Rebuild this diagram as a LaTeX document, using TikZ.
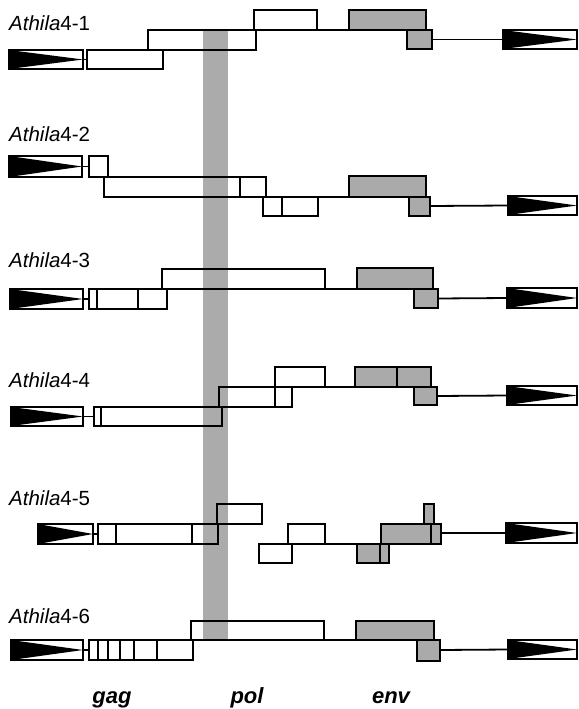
\documentclass[tikz,border=0pt]{standalone}
\usepackage{fontspec}
\setmainfont{Liberation Sans}
\definecolor{envgray}{HTML}{AAAAAA}
\definecolor{bargray}{HTML}{ABABAB}
\tikzset{
  orf/.style={draw=black,line width=1.8pt},
  envorf/.style={draw=black,line width=1.8pt,fill=envgray},
  link/.style={draw=black,line width=1.8pt},
  ltrbox/.style={draw=black,line width=1.8pt},
  rowlabel/.style={anchor=base west,inner sep=0pt,font=\fontsize{20.5}{24}\selectfont},
  orfname/.style={anchor=base,inner sep=0pt,font=\fontsize{22}{25}\selectfont\bfseries\itshape},
}
\newcommand\drawltr[5]{%
  \fill[black] (#2,#3) -- (#2,#5) -- (#4,{(#3+#5)/2}) -- cycle;
  \draw[ltrbox] (#2,#3) rectangle (#4,#5);
  \coordinate (#1-w) at (#2,{(#3+#5)/2});
  \coordinate (#1-e) at (#4,{(#3+#5)/2});
}
\begin{document}
\begin{tikzpicture}[x=1pt,y=-1pt]
\useasboundingbox (0,0) rectangle (578,709);
% shaded column
\fill[bargray] (203,30) rectangle (228,640);

% ---------- Athila4-1
\node[rowlabel] (n1) at (9,31) {\textit{Athila}4-1};
\drawltr{a1}{9}{50}{83}{69}
\draw[orf] (87,50) rectangle (163,69);
\coordinate (g1) at (87,59.5);
\draw[link] (a1-e) -- (g1);
\draw[orf] (148,30) rectangle (256,50);
\draw[orf] (254,10) rectangle (317,30);
\draw[link] (317,30) -- (349,30);
\draw[envorf] (349,10) rectangle (426,30);
\draw[envorf] (407,30) rectangle (432,49);
\drawltr{b1}{503}{30}{577}{49}
\coordinate (e1) at (432,39.5);
\draw[link] (e1) -- (b1-w);

% ---------- Athila4-2
\node[rowlabel] (n2) at (9,141) {\textit{Athila}4-2};
\drawltr{a2}{9}{156}{82}{177}
\coordinate (g2) at (89,166.5);
\draw[link] (a2-e) -- (g2);
\draw[orf] (89,156) rectangle (108,177);
\draw[orf] (104,177) rectangle (266,197);
\draw[orf] (240,177) -- (240,197);
\draw[orf] (263,197) rectangle (318,216);
\draw[orf] (282,197) -- (282,216);
\draw[link] (266,197) -- (349,197);
\draw[envorf] (349,176) rectangle (426,197);
\draw[envorf] (409,197) rectangle (430,216);
\drawltr{b2}{508}{196}{577}{215}
\coordinate (e2) at (430,206);
\draw[link] (e2) -- (b2-w);

% ---------- Athila4-3
\node[rowlabel] (n3) at (9,267) {\textit{Athila}4-3};
\drawltr{a3}{10}{289}{83}{309}
\coordinate (g3) at (89,299);
\draw[link] (a3-e) -- (g3);
\draw[orf] (89,289) rectangle (167,309);
\draw[orf] (97,289) -- (97,309);
\draw[orf] (138,289) -- (138,309);
\draw[orf] (162,269) rectangle (325,289);
\draw[link] (167,289) -- (357,289);
\draw[envorf] (357,268) rectangle (433,289);
\draw[envorf] (414,289) rectangle (438,308);
\drawltr{b3}{507}{288}{577}{308}
\coordinate (e3) at (438,298.5);
\draw[link] (e3) -- (b3-w);

% ---------- Athila4-4
\node[rowlabel] (n4) at (9,387) {\textit{Athila}4-4};
\drawltr{a4}{11}{407}{83}{426}
\coordinate (g4) at (94,416.5);
\draw[link] (a4-e) -- (g4);
\draw[orf] (94,407) rectangle (222,426);
\draw[orf] (101,407) -- (101,426);
\draw[orf] (219,387) rectangle (292,407);
\draw[orf] (275,367) rectangle (325,387);
\draw[orf] (275,387) -- (275,407);
\draw[link] (325,387) -- (355,387);
\draw[envorf] (355,367) rectangle (431,387);
\draw[orf] (397,367) -- (397,387);
\draw[envorf] (414,387) rectangle (437,405);
\drawltr{b4}{507}{386}{577}{405}
\coordinate (e4) at (437,396);
\draw[link] (e4) -- (b4-w);

% ---------- Athila4-5
\node[rowlabel] (n5) at (9,505) {\textit{Athila}4-5};
\drawltr{a5}{38}{524}{93}{544}
\coordinate (g5) at (98,534);
\draw[link] (a5-e) -- (g5);
\draw[orf] (98,524) rectangle (218,544);
\draw[orf] (116,524) -- (116,544);
\draw[orf] (192,524) -- (192,544);
\draw[orf] (217,504) rectangle (262,524);
\draw[orf] (259,544) rectangle (292,563);
\draw[orf] (288,524) rectangle (325,544);
\draw[link] (325,544) -- (357,544);
\draw[envorf] (357,544) rectangle (389,563);
\draw[orf] (380,544) -- (380,563);
\draw[envorf] (381,524) rectangle (441,544);
\draw[orf] (431,524) -- (431,544);
\draw[envorf] (424,504) rectangle (434,524);
\drawltr{b5}{506}{523}{577}{543}
\coordinate (e5) at (441,533);
\draw[link] (e5) -- (b5-w);

% ---------- Athila4-6
\node[rowlabel] (n6) at (9,623) {\textit{Athila}4-6};
\drawltr{a6}{11}{640}{83}{660}
\coordinate (g6) at (89,650);
\draw[link] (a6-e) -- (g6);
\draw[orf] (89,640) rectangle (193,660);
\foreach \xx in {98,108,120,134,157} \draw[orf] (\xx,640) -- (\xx,660);
\draw[orf] (191,621) rectangle (324,640);
\draw[link] (324,640) -- (356,640);
\draw[envorf] (356,621) rectangle (434,640);
\draw[envorf] (417,640) rectangle (440,661);
\drawltr{b6}{508}{640}{577}{659}
\coordinate (e6) at (440,650);
\draw[link] (e6) -- (b6-w);

% ---------- ORF names
\node[orfname] (gag) at (112,703) {gag};
\node[orfname] (pol) at (247,703) {pol};
\node[orfname] (env) at (391,703) {env};
\end{tikzpicture}
\end{document}
